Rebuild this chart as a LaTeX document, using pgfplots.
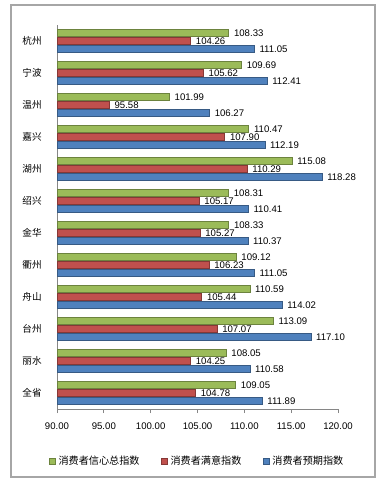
\documentclass[border=0pt]{standalone}
\usepackage{pgfplots}
\pgfplotsset{compat=1.18}
\usepackage{fontspec}
\setmainfont{Liberation Sans}
\newfontfamily\cjk{Noto Sans CJK SC}
\definecolor{cgreen}{HTML}{9BBB59}
\definecolor{cred}{HTML}{C0504D}
\definecolor{cblue}{HTML}{4F81BD}
\definecolor{frame}{HTML}{A6A6A6}
\definecolor{axg}{HTML}{868686}
\pgfplotstableread{
y total satis expect
11 108.33 104.26 111.05
10 109.69 105.62 112.41
9  101.99 95.58  106.27
8  110.47 107.90 112.19
7  115.08 110.29 118.28
6  108.31 105.17 110.41
5  108.33 105.27 110.37
4  109.12 106.23 111.05
3  110.59 105.44 114.02
2  113.09 107.07 117.10
1  108.05 104.25 110.58
0  109.05 104.78 111.89
}\datatable
\begin{document}
\begin{tikzpicture}[x=0.75pt,y=0.75pt]
\path (0,0) rectangle (385,486);
\draw[frame, line width=0.8pt] (11,9) rectangle (375,481);
\begin{axis}[
  at={(42.75pt,57.75pt)}, anchor=south west,
  scale only axis, width=210.75pt, height=288pt,
  xmin=90, xmax=120, ymin=-0.5, ymax=11.5,
  xbar, bar width=5.4pt,
  axis x line*=bottom, axis y line*=left,
  axis line style={axg, line width=0.6pt},
  xtick={90,95,...,120},
  x tick label style={yshift=-4pt, font=\fontsize{7.2}{8}\selectfont, /pgf/number format/.cd, fixed, fixed zerofill, precision=2, 1000 sep={}},
  /pgf/number format/assume math mode=true,
  xtick align=outside, major tick length=3pt,
  tick style={axg, line width=0.6pt},
  ytick={0,...,11},
  yticklabels={全省,丽水,台州,舟山,衢州,金华,绍兴,湖州,嘉兴,温州,宁波,杭州},
  y tick label style={font=\cjk\fontsize{7.2}{8}\selectfont, xshift=-5pt},
  ytick style={draw=none},
  extra y ticks={-0.5,0.5,...,11.5},
  extra y tick labels={},
  extra y tick style={ytick style={axg, line width=0.6pt}, tick align=outside},
  nodes near coords,
  nodes near coords align={horizontal},
  point meta=x,
  every node near coord/.append style={font=\fontsize{7.2}{8}\selectfont, black, anchor=west, xshift=0.5pt, /pgf/number format/.cd, fixed, fixed zerofill, precision=2, assume math mode=true},
  legend style={at={(0.5,-0.108)}, anchor=north, draw=none, legend columns=3, font=\cjk\fontsize{7.6}{9}\selectfont,
    /tikz/every even column/.append style={column sep=14pt}},
  legend image code/.code={\fill[#1] (0pt,-2.4pt) rectangle (4.8pt,2.4pt);},
  clip=false,
]
\addplot[fill=cgreen, draw=cgreen!70!black, bar shift=6pt] table[x=total,y=y]{\datatable};
\addplot[fill=cred, draw=cred!70!black, bar shift=0pt] table[x=satis,y=y]{\datatable};
\addplot[fill=cblue, draw=cblue!70!black, bar shift=-6pt] table[x=expect,y=y]{\datatable};
\legend{消费者信心总指数,消费者满意指数,消费者预期指数}
\end{axis}
\end{tikzpicture}
\end{document}
